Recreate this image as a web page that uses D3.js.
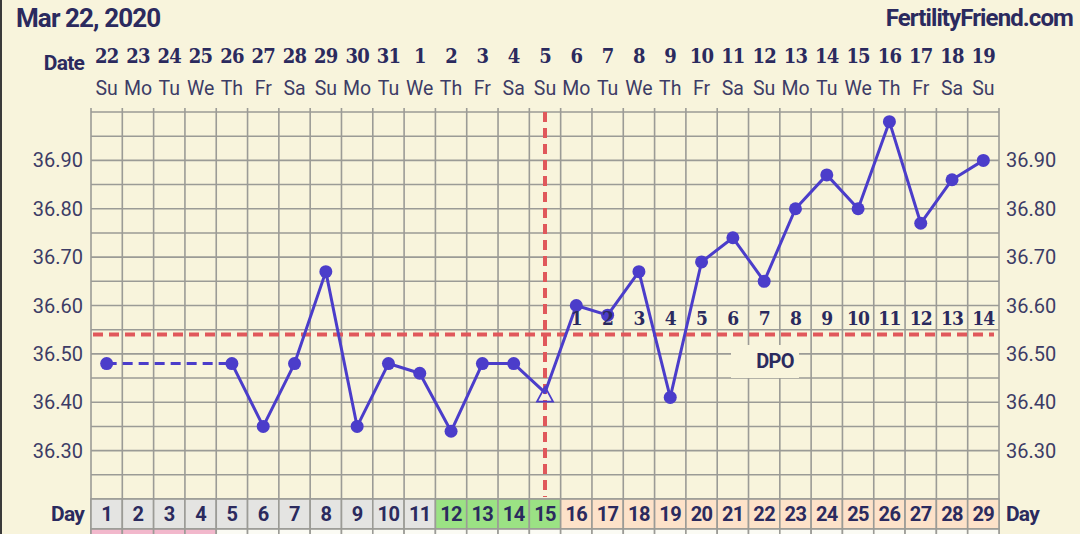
<!DOCTYPE html>
<html><head><meta charset="utf-8">
<script src="https://cdn.jsdelivr.net/npm/d3@7"></script>
<style>
html,body{margin:0;padding:0;background:#f8f4dc;}
svg{display:block;}
</style></head>
<body>
<svg id="c" width="1080" height="534"></svg>
<script>
// ---- data ----
const cycleDays = d3.range(1, 30);
const dates = ["22","23","24","25","26","27","28","29","30","31","1","2","3","4","5","6","7","8","9","10","11","12","13","14","15","16","17","18","19"];
const weekdays = ["Su","Mo","Tu","We","Th","Fr","Sa","Su","Mo","Tu","We","Th","Fr","Sa","Su","Mo","Tu","We","Th","Fr","Sa","Su","Mo","Tu","We","Th","Fr","Sa","Su"];
const temps = [36.48,null,null,null,36.48,36.35,36.48,36.67,36.35,36.48,36.46,36.34,36.48,36.48,36.42,36.60,36.58,36.67,36.41,36.69,36.74,36.65,36.80,36.87,36.80,36.98,36.77,36.86,36.90];
const yTicks = [36.30,36.40,36.50,36.60,36.70,36.80,36.90];
const coverline = 36.54;
const ovulationDay = 15;
const dpoDays = d3.range(16, 30);
const dpoLabels = d3.range(1, 15);
const cellType = ["m","m","m","m","n","n","n","n","n","n","n","f","f","f","f","l","l","l","l","l","l","l","l","l","l","l","l","l","l"];
const bottomType = ["p","p","p","p","w","w","w","w","w","w","w","w","w","w","w","w","w","w","w","w","w","w","w","w","w","w","w","w","w"];

// ---- styles ----
const navy = "#2b2a5e", txt = "#3d3c66", grid = "#9b9b96", purple = "#4b3dca", red = "#e0585b";
const cellFill = {m:"#e4e4e2", n:"#e4e4e2", f:"#9be284", l:"#fde2c9"};
const bottomFill = {p:"#f2b8cc", w:"#fbfbf4"};
const slab = "'DejaVu Serif Condensed','DejaVu Serif'";

const svg = d3.select("#c");
svg.append("rect").attr("width",1080).attr("height",534).attr("fill","#f8f4dc");
svg.append("rect").attr("x",0).attr("y",0).attr("width",2).attr("height",534).attr("fill","#3a3a3a");

const x = d3.scaleBand().domain(cycleDays).range([91, 999]).padding(0);
const bw = x.bandwidth();
const cx = d => x(d) + bw/2;
const y = d3.scaleLinear().domain([36.2, 37.0]).range([499, 112]);

// header
svg.append("text").attr("x",16).attr("y",27).attr("font-family","Roboto").attr("font-weight","bold")
  .attr("font-size",26).attr("letter-spacing",-0.9).attr("fill",navy).text("Mar 22, 2020");
svg.append("text").attr("x",1073).attr("y",26).attr("text-anchor","end").attr("font-family","Roboto").attr("font-weight","bold")
  .attr("font-size",24).attr("letter-spacing",-0.9).attr("fill",navy).text("FertilityFriend.com");

// Date row
svg.append("text").attr("x",84).attr("y",70).attr("text-anchor","end").attr("font-family","Roboto").attr("font-weight","bold")
  .attr("font-size",21).attr("letter-spacing",-0.8).attr("fill",navy).text("Date");
svg.append("g").selectAll("text").data(cycleDays).join("text")
  .attr("x",d=>cx(d)).attr("y",63).attr("text-anchor","middle")
  .attr("font-family",slab).attr("font-stretch","condensed").attr("font-weight","bold")
  .attr("font-size",20).attr("letter-spacing",-0.8).attr("fill",navy).text((d,i)=>dates[i]);
svg.append("g").selectAll("text").data(cycleDays).join("text")
  .attr("x",d=>cx(d)).attr("y",95).attr("text-anchor","middle")
  .attr("font-family","Roboto").attr("font-size",19.5).attr("fill",txt).text((d,i)=>weekdays[i]);

// grid
const gGrid = svg.append("g").attr("stroke",grid).attr("stroke-width",1.6);
const hLines = d3.range(0, 17).map(i => 36.2 + i*0.05);
gGrid.selectAll("line.h").data(hLines).join("line").attr("class","h")
  .attr("x1",91).attr("x2",999).attr("y1",d=>y(d)).attr("y2",d=>y(d));
gGrid.selectAll("line.v").data(cycleDays.concat([30])).join("line").attr("class","v")
  .attr("x1",d=> d<30 ? x(d) : 999).attr("x2",d=> d<30 ? x(d) : 999)
  .attr("y1",108).attr("y2",534);

// day row cells
svg.append("g").selectAll("rect").data(cycleDays).join("rect")
  .attr("x",d=>x(d)).attr("y",499).attr("width",bw).attr("height",30)
  .attr("fill",(d,i)=>cellFill[cellType[i]]).attr("stroke",grid).attr("stroke-width",1.6);
svg.append("g").selectAll("rect").data(cycleDays).join("rect")
  .attr("x",d=>x(d)).attr("y",529).attr("width",bw).attr("height",10)
  .attr("fill",(d,i)=>bottomFill[bottomType[i]]).attr("stroke",grid).attr("stroke-width",1.6);
svg.append("g").selectAll("text").data(cycleDays).join("text")
  .attr("x",d=>cx(d)).attr("y",521).attr("text-anchor","middle")
  .attr("font-family","Roboto").attr("font-weight","bold").attr("font-size",20).attr("letter-spacing",-0.6)
  .attr("fill",navy).text(d=>d);
svg.append("text").attr("x",84).attr("y",521).attr("text-anchor","end").attr("font-family","Roboto").attr("font-weight","bold")
  .attr("font-size",21).attr("letter-spacing",-0.8).attr("fill",navy).text("Day");
svg.append("text").attr("x",1006).attr("y",521).attr("font-family","Roboto").attr("font-weight","bold")
  .attr("font-size",21).attr("letter-spacing",-0.8).attr("fill",navy).text("Day");

// y labels
const fmt = d3.format(".2f");
svg.append("g").selectAll("text").data(yTicks).join("text")
  .attr("x",83).attr("y",d=>y(d)+7).attr("text-anchor","end")
  .attr("font-family","Roboto").attr("font-size",20).attr("fill",txt).text(fmt);
svg.append("g").selectAll("text").data(yTicks).join("text")
  .attr("x",1006).attr("y",d=>y(d)+7)
  .attr("font-family","Roboto").attr("font-size",20).attr("fill",txt).text(fmt);

// DPO box
svg.append("rect").attr("x",731).attr("y",345).attr("width",68).attr("height",33).attr("fill","#f8f4dc");
svg.append("text").attr("x",775).attr("y",368).attr("text-anchor","middle").attr("font-family","Roboto").attr("font-weight","bold")
  .attr("font-size",20).attr("letter-spacing",-0.8).attr("fill",navy).text("DPO");

// coverline & ovulation
svg.append("line").attr("x1",93).attr("x2",994).attr("y1",y(coverline)).attr("y2",y(coverline))
  .attr("stroke",red).attr("stroke-width",4).attr("stroke-dasharray","10,6");
svg.append("line").attr("x1",cx(ovulationDay)).attr("x2",cx(ovulationDay)).attr("y1",112).attr("y2",497)
  .attr("stroke",red).attr("stroke-width",4).attr("stroke-dasharray","10,6");

// data line
const pts = cycleDays.map((d,i)=>({d, v: temps[i]})).filter(p=>p.v!==null);
const line = d3.line().x(p=>cx(p.d)).y(p=>y(p.v));
svg.append("path").attr("d", line([pts[0], pts[1]])).attr("fill","none")
  .attr("stroke",purple).attr("stroke-width",3).attr("stroke-dasharray","10,6");
svg.append("path").attr("d", line(pts.slice(1))).attr("fill","none")
  .attr("stroke",purple).attr("stroke-width",3).attr("stroke-linejoin","round");
svg.append("g").selectAll("circle").data(pts.filter(p=>p.d!==ovulationDay)).join("circle")
  .attr("cx",p=>cx(p.d)).attr("cy",p=>y(p.v)).attr("r",6.5).attr("fill",purple);
const ov = pts.find(p=>p.d===ovulationDay);
svg.append("path").attr("transform",`translate(${cx(ov.d)},${y(ov.v)+3})`)
  .attr("d","M0,-9 L8,6 L-8,6 Z").attr("fill","none").attr("stroke",purple).attr("stroke-width",1.8);

// DPO numbers
svg.append("g").selectAll("text").data(dpoDays).join("text")
  .attr("x",d=>cx(d)).attr("y",325).attr("text-anchor","middle")
  .attr("font-family",slab).attr("font-stretch","condensed").attr("font-weight","bold")
  .attr("font-size",19).attr("letter-spacing",-0.8).attr("fill",navy).text((d,i)=>dpoLabels[i]);
</script>
</body></html>
